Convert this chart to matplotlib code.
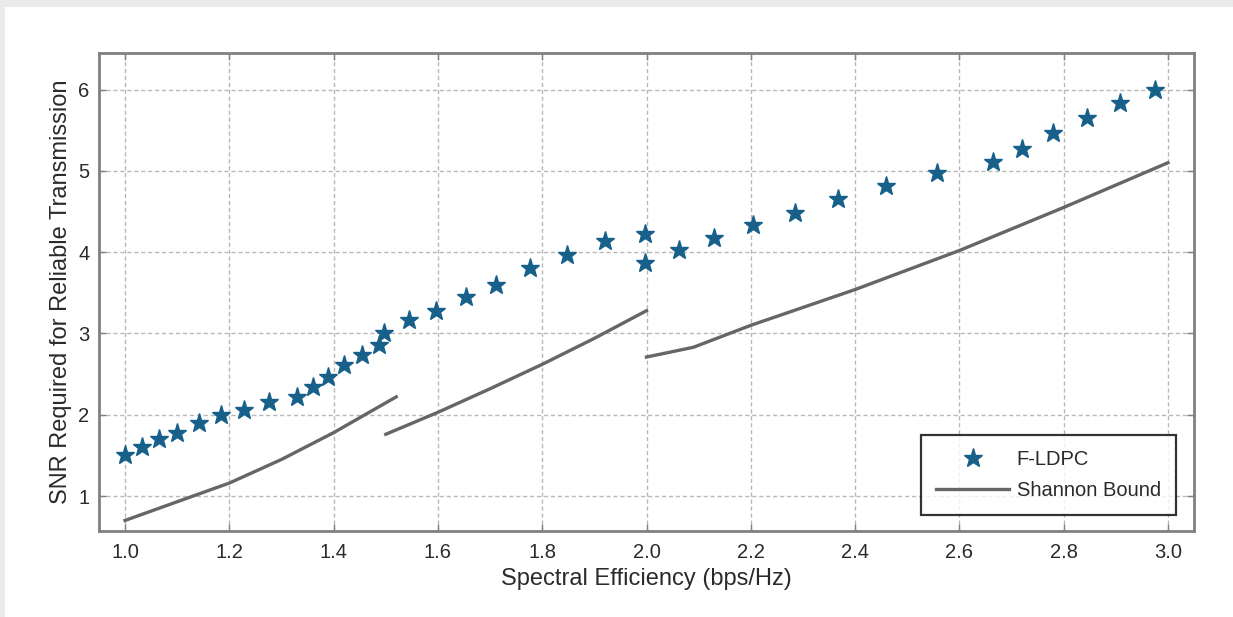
import matplotlib
matplotlib.use("Agg")
import matplotlib.pyplot as plt
from matplotlib.patches import Rectangle

# F-LDPC operating points (spectral efficiency, SNR)
fldpc_x = [1.000, 1.033, 1.065, 1.100, 1.141, 1.184, 1.228, 1.276, 1.330, 1.360,
           1.389, 1.420, 1.455, 1.487, 1.497, 1.545, 1.597, 1.653, 1.712, 1.777,
           1.848, 1.920, 1.998, 1.998, 2.063, 2.130, 2.205, 2.284, 2.368, 2.459,
           2.557, 2.664, 2.720, 2.780, 2.845, 2.908, 2.975]
fldpc_y = [1.50, 1.60, 1.70, 1.78, 1.90, 2.00, 2.06, 2.16, 2.22, 2.34,
           2.47, 2.61, 2.74, 2.86, 3.01, 3.16, 3.28, 3.45, 3.60, 3.80,
           3.96, 4.14, 4.22, 3.87, 4.03, 4.17, 4.33, 4.48, 4.66, 4.81,
           4.98, 5.11, 5.27, 5.46, 5.65, 5.83, 6.00]

# Shannon bound, three segments
sh1_x = [1.00, 1.10, 1.20, 1.30, 1.40, 1.52]
sh1_y = [0.70, 0.93, 1.16, 1.45, 1.78, 2.22]
sh2_x = [1.50, 1.60, 1.70, 1.80, 1.90, 2.00]
sh2_y = [1.76, 2.03, 2.32, 2.62, 2.94, 3.28]
sh3_x = [2.00, 2.09, 2.20, 2.40, 2.60, 2.80, 3.00]
sh3_y = [2.71, 2.83, 3.10, 3.54, 4.02, 4.55, 5.10]

xticks = [1.0, 1.2, 1.4, 1.6, 1.8, 2.0, 2.2, 2.4, 2.6, 2.8, 3.0]
xtick_labels = ["1.0", "1.2", "1.4", "1.6", "1.8", "2.0", "2.2", "2.4", "2.6", "2.8", "3.0"]
yticks = [1, 2, 3, 4, 5, 6]
ytick_labels = ["1", "2", "3", "4", "5", "6"]

plt.rcParams['font.family'] = ['Liberation Sans', 'DejaVu Sans']

W, H = 1233, 617
fig = plt.figure(figsize=(W / 100, H / 100), dpi=100)
fig.patch.set_facecolor('white')
# light gray border strips (top and left)
fig.patches.append(Rectangle((0, 1 - 7 / H), 1, 7 / H, transform=fig.transFigure,
                             facecolor='#ebebeb', edgecolor='none', zorder=-10))
fig.patches.append(Rectangle((0, 0), 5 / W, 1, transform=fig.transFigure,
                             facecolor='#ebebeb', edgecolor='none', zorder=-10))

ax = fig.add_axes([99 / W, 1 - 531 / H, 1095 / W, 478 / H])

star_color = '#17608a'
line_color = '#666666'
text_color = '#2a2a2a'

ax.plot(fldpc_x, fldpc_y, linestyle='none', marker='*', markersize=14,
        color=star_color, markeredgecolor=star_color, label='F-LDPC', zorder=3)
ax.plot(sh1_x, sh1_y, color=line_color, linewidth=2.4, label='Shannon Bound', zorder=2)
ax.plot(sh2_x, sh2_y, color=line_color, linewidth=2.4, zorder=2)
ax.plot(sh3_x, sh3_y, color=line_color, linewidth=2.4, zorder=2)

ax.set_xlim(0.95, 3.05)
ax.set_ylim(0.57, 6.45)
ax.set_xticks(xticks)
ax.set_xticklabels(xtick_labels)
ax.set_yticks(yticks)
ax.set_yticklabels(ytick_labels)

ax.grid(True, color='#b8b8b8', linestyle=(0, (3, 2)), linewidth=1.0)
ax.set_axisbelow(True)

for s in ax.spines.values():
    s.set_color('#808080')
    s.set_linewidth(2.0)

ax.tick_params(direction='in', length=5, width=1.0, color='#808080',
               top=True, right=True, labelsize=14.5, labelcolor=text_color)
ax.tick_params(axis='x', pad=9)
ax.tick_params(axis='y', pad=7)

ax.set_xlabel('Spectral Efficiency (bps/Hz)', fontsize=17, color=text_color, labelpad=4)
ax.set_ylabel('SNR Required for Reliable Transmission', fontsize=17, color=text_color, labelpad=4)

leg = ax.legend(loc='lower right', bbox_to_anchor=(0.9836, 0.0335), fontsize=14.5,
                frameon=True, fancybox=False, edgecolor='black', handlelength=3.6,
                borderpad=0.75, labelspacing=0.6, handletextpad=0.4, borderaxespad=0)
leg.get_frame().set_linewidth(1.6)
for t in leg.get_texts():
    t.set_color(text_color)

fig.savefig('out.png', dpi=100, facecolor='white')
